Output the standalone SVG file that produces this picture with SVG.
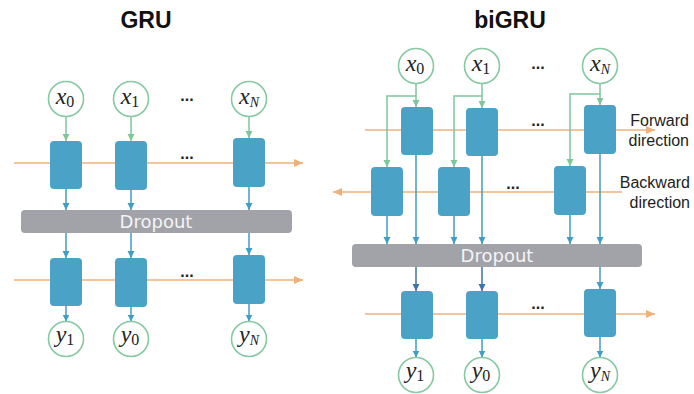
<svg xmlns="http://www.w3.org/2000/svg" width="694" height="394" viewBox="0 0 694 394">
<defs>
<marker id="ab" markerUnits="userSpaceOnUse" markerWidth="8" markerHeight="8" refX="7" refY="3.5" orient="auto"><path d="M0,0 L7,3.5 L0,7 z" fill="#3f9ec6"/></marker>
<marker id="ad" markerUnits="userSpaceOnUse" markerWidth="8" markerHeight="8" refX="7" refY="3.5" orient="auto"><path d="M0,0 L7,3.5 L0,7 z" fill="#3c72ae"/></marker>
<marker id="ag" markerUnits="userSpaceOnUse" markerWidth="8" markerHeight="8" refX="7" refY="3.5" orient="auto"><path d="M0,0 L7,3.5 L0,7 z" fill="#7fc59e"/></marker>
<marker id="ao" markerUnits="userSpaceOnUse" markerWidth="10" markerHeight="10" refX="9" refY="4" orient="auto"><path d="M0,0 L9,4 L0,8 z" fill="#f0b07a"/></marker>
</defs>
<style>
.title{font-family:"Liberation Sans",Arial,sans-serif;font-weight:bold;font-size:23px;fill:#111;text-anchor:middle}
.lbl{font-family:"Liberation Sans",Arial,sans-serif;font-size:16px;fill:#222;text-anchor:end}
.dots{font-family:"Liberation Sans",Arial,sans-serif;font-size:16px;font-weight:bold;fill:#222;text-anchor:middle}
.cell{fill:#4aa3c6}
.circ{fill:#fff;stroke:#86c9a3;stroke-width:1.6}
.math{font-family:"Liberation Serif","Times New Roman",serif;font-style:italic;font-size:24px;fill:#222;text-anchor:middle}
.sub{font-style:normal;font-size:16px}
.subi{font-style:italic;font-size:14px}
.drop{fill:#a2a2a9}
.dtext{font-family:"DejaVu Sans",sans-serif;font-size:18px;fill:#f4f4f4;text-anchor:middle}
.ob{stroke:#f0b07a;stroke-width:1.6;fill:none}
.bl{stroke:#3f9ec6;stroke-width:1.5;fill:none}
.dk{stroke:#3c72ae;stroke-width:1.5;fill:none}
.gr{stroke:#7fc59e;stroke-width:1.5;fill:none}
</style>

<text class="title" x="146" y="28">GRU</text>
<text class="title" x="510" y="28">biGRU</text>

<g id="connectors">
<!-- GRU -->
<line class="ob" x1="14" y1="163" x2="303" y2="163" marker-end="url(#ao)"/>
<line class="ob" x1="14" y1="280" x2="303" y2="280" marker-end="url(#ao)"/>
<line class="gr" x1="66" y1="116.5" x2="66" y2="141" marker-end="url(#ag)"/>
<line class="gr" x1="131" y1="116.5" x2="131" y2="141" marker-end="url(#ag)"/>
<line class="gr" x1="249" y1="116.5" x2="249" y2="138" marker-end="url(#ag)"/>
<line class="bl" x1="66" y1="189" x2="66" y2="210" marker-end="url(#ab)"/>
<line class="bl" x1="131" y1="189" x2="131" y2="210" marker-end="url(#ab)"/>
<line class="bl" x1="249" y1="187" x2="249" y2="210" marker-end="url(#ab)"/>
<line class="bl" x1="66" y1="233" x2="66" y2="258" marker-end="url(#ab)"/>
<line class="bl" x1="131" y1="233" x2="131" y2="258" marker-end="url(#ab)"/>
<line class="bl" x1="249" y1="233" x2="249" y2="255" marker-end="url(#ab)"/>
<line class="bl" x1="66" y1="306" x2="66" y2="321.5" marker-end="url(#ab)"/>
<line class="bl" x1="131" y1="307" x2="131" y2="321.5" marker-end="url(#ab)"/>
<line class="bl" x1="249" y1="304" x2="249" y2="321.5" marker-end="url(#ab)"/>
<!-- biGRU -->
<line class="ob" x1="365" y1="130" x2="655" y2="130" marker-end="url(#ao)"/>
<line class="ob" x1="622" y1="192" x2="333" y2="192" marker-end="url(#ao)"/>
<line class="ob" x1="365" y1="314" x2="655" y2="314" marker-end="url(#ao)"/>
<line class="gr" x1="416" y1="83.5" x2="416" y2="107" marker-end="url(#ag)"/>
<polyline class="gr" points="416,96 387,96 387,167" marker-end="url(#ag)"/>
<line class="gr" x1="482" y1="83.5" x2="482" y2="108" marker-end="url(#ag)"/>
<polyline class="gr" points="482,96 454,96 454,167" marker-end="url(#ag)"/>
<line class="gr" x1="600" y1="83.5" x2="600" y2="105" marker-end="url(#ag)"/>
<polyline class="gr" points="600,94 570,94 570,166" marker-end="url(#ag)"/>
<line class="bl" x1="416" y1="155" x2="416" y2="244" marker-end="url(#ab)"/>
<line class="bl" x1="482" y1="156" x2="482" y2="244" marker-end="url(#ab)"/>
<line class="bl" x1="600" y1="154" x2="600" y2="244" marker-end="url(#ab)"/>
<line class="bl" x1="387" y1="216" x2="387" y2="244" marker-end="url(#ab)"/>
<line class="bl" x1="454" y1="216" x2="454" y2="244" marker-end="url(#ab)"/>
<line class="bl" x1="570" y1="215" x2="570" y2="244" marker-end="url(#ab)"/>
<line class="dk" x1="416" y1="267" x2="416" y2="291" marker-end="url(#ad)"/>
<line class="dk" x1="482" y1="267" x2="482" y2="291" marker-end="url(#ad)"/>
<line class="bl" x1="600" y1="267" x2="600" y2="289" marker-end="url(#ab)"/>
<line class="bl" x1="416" y1="339" x2="416" y2="357.5" marker-end="url(#ab)"/>
<line class="bl" x1="482" y1="339" x2="482" y2="357.5" marker-end="url(#ab)"/>
<line class="bl" x1="600" y1="337" x2="600" y2="357.5" marker-end="url(#ab)"/>
</g>

<!-- GRU nodes -->
<g id="gru-x0"><circle class="circ" cx="66" cy="99" r="17.5"/><text class="math" x="65" y="104">x<tspan class="sub" dy="3">0</tspan></text></g>
<g id="gru-x1"><circle class="circ" cx="131" cy="99" r="17.5"/><text class="math" x="130" y="104">x<tspan class="sub" dy="3">1</tspan></text></g>
<g id="gru-xN"><circle class="circ" cx="249" cy="99" r="17.5"/><text class="math" x="249" y="104">x<tspan class="subi" dy="3">N</tspan></text></g>
<text class="dots" x="187" y="101">...</text>
<g id="gru-c1"><rect class="cell" x="50" y="141" width="32" height="48" rx="4"/></g>
<g id="gru-c2"><rect class="cell" x="115" y="141" width="32" height="49" rx="4"/></g>
<g id="gru-c3"><rect class="cell" x="233" y="138" width="32" height="49" rx="4"/></g>
<text class="dots" x="187" y="159">...</text>
<g id="gru-dropout"><rect class="drop" x="21" y="210" width="271" height="23" rx="4"/><text class="dtext" x="156" y="228">Dropout</text></g>
<g id="gru-d1"><rect class="cell" x="50" y="258" width="32" height="48" rx="4"/></g>
<g id="gru-d2"><rect class="cell" x="115" y="258" width="32" height="49" rx="4"/></g>
<g id="gru-d3"><rect class="cell" x="233" y="255" width="32" height="49" rx="4"/></g>
<text class="dots" x="187" y="277">...</text>
<g id="gru-y1"><circle class="circ" cx="66" cy="339" r="17.5"/><text class="math" x="65" y="342">y<tspan class="sub" dy="3">1</tspan></text></g>
<g id="gru-y0"><circle class="circ" cx="131" cy="339" r="17.5"/><text class="math" x="130" y="342">y<tspan class="sub" dy="3">0</tspan></text></g>
<g id="gru-yN"><circle class="circ" cx="249" cy="339" r="17.5"/><text class="math" x="249" y="342">y<tspan class="subi" dy="3">N</tspan></text></g>

<!-- biGRU nodes -->
<g id="bi-x0"><circle class="circ" cx="416" cy="66" r="17.5"/><text class="math" x="415" y="71">x<tspan class="sub" dy="3">0</tspan></text></g>
<g id="bi-x1"><circle class="circ" cx="482" cy="66" r="17.5"/><text class="math" x="481" y="71">x<tspan class="sub" dy="3">1</tspan></text></g>
<g id="bi-xN"><circle class="circ" cx="600" cy="66" r="17.5"/><text class="math" x="600" y="71">x<tspan class="subi" dy="3">N</tspan></text></g>
<text class="dots" x="538" y="69">...</text>
<g id="bi-f1"><rect class="cell" x="401" y="107" width="32" height="48" rx="4"/></g>
<g id="bi-f2"><rect class="cell" x="466" y="108" width="32" height="48" rx="4"/></g>
<g id="bi-f3"><rect class="cell" x="584" y="105" width="32" height="49" rx="4"/></g>
<text class="dots" x="538" y="126">...</text>
<text class="lbl" x="689" y="126">Forward</text>
<text class="lbl" x="689" y="146">direction</text>
<g id="bi-b1"><rect class="cell" x="371" y="167" width="32" height="49" rx="4"/></g>
<g id="bi-b2"><rect class="cell" x="438" y="167" width="32" height="49" rx="4"/></g>
<g id="bi-b3"><rect class="cell" x="554" y="166" width="32" height="49" rx="4"/></g>
<text class="dots" x="513" y="189">...</text>
<text class="lbl" x="690" y="188">Backward</text>
<text class="lbl" x="690" y="208">direction</text>
<g id="bi-dropout"><rect class="drop" x="352" y="244" width="290" height="23" rx="4"/><text class="dtext" x="497" y="262">Dropout</text></g>
<g id="bi-o1"><rect class="cell" x="401" y="291" width="32" height="48" rx="4"/></g>
<g id="bi-o2"><rect class="cell" x="466" y="291" width="32" height="48" rx="4"/></g>
<g id="bi-o3"><rect class="cell" x="584" y="289" width="32" height="48" rx="4"/></g>
<text class="dots" x="538" y="309">...</text>
<g id="bi-y1"><circle class="circ" cx="416" cy="375" r="17.5"/><text class="math" x="415" y="378">y<tspan class="sub" dy="3">1</tspan></text></g>
<g id="bi-y0"><circle class="circ" cx="482" cy="375" r="17.5"/><text class="math" x="481" y="378">y<tspan class="sub" dy="3">0</tspan></text></g>
<g id="bi-yN"><circle class="circ" cx="600" cy="375" r="17.5"/><text class="math" x="600" y="378">y<tspan class="subi" dy="3">N</tspan></text></g>
</svg>
